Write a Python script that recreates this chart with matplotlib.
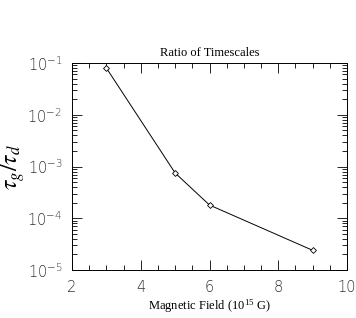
import math
import matplotlib
matplotlib.use("Agg")
import matplotlib.pyplot as plt
from matplotlib.ticker import LogLocator, MultipleLocator, FuncFormatter

field = [3, 5, 6, 9]
ratio = [0.08, 7.5e-4, 1.8e-4, 2.4e-5]
xticks = [2, 4, 6, 8, 10]

plt.rcParams["mathtext.fontset"] = "stix"

fig = plt.figure(figsize=(3.56, 3.18), dpi=100)
ax = fig.add_axes([72 / 356, 1 - 270 / 318, 275 / 356, 207 / 318])

ax.plot(field, ratio, color="black", lw=0.7, marker="D", ms=3,
        mfc="white", mec="black", mew=0.6)
ax.set_yscale("log")
ax.set_xlim(2, 10)
ax.set_ylim(1e-5, 1e-1)
ax.set_xticks(xticks)
ax.xaxis.set_minor_locator(MultipleLocator(0.5))
ax.yaxis.set_major_locator(LogLocator(base=10, numticks=10))
ax.yaxis.set_minor_locator(LogLocator(base=10, subs=range(2, 10), numticks=10))

ax.tick_params(which="both", direction="in", top=True, right=True,
               width=0.6, color="black")
ax.tick_params(which="major", length=7, labelsize=10.5, pad=7)
ax.tick_params(which="minor", length=3.5)
for s in ax.spines.values():
    s.set_linewidth(0.7)

ax.yaxis.set_major_formatter(FuncFormatter(
    lambda v, p: r"$\mathdefault{10^{%d}}$" % round(math.log10(v))))
for lab in ax.get_xticklabels() + ax.get_yticklabels():
    lab.set_fontweight("light")
    lab.set_color("#333333")

ax.set_title("Ratio of Timescales", family="Liberation Serif", fontsize=9, pad=5)
ax.set_xlabel(r"Magnetic Field (10$^{\mathdefault{15}}$ G)", family="Liberation Serif",
              fontsize=9, labelpad=2)
ax.set_ylabel(r"$\tau_g/\tau_d$", fontsize=17)
ax.yaxis.set_label_coords(-0.165, 0.5)

fig.savefig("out.png", dpi=100)
